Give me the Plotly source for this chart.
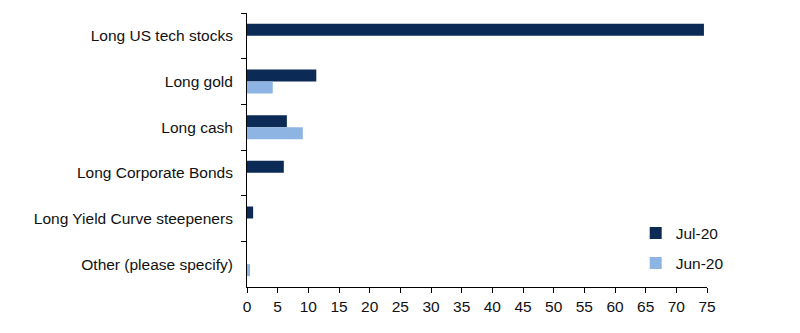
import plotly.graph_objects as go

categories = ["Long US tech stocks", "Long gold", "Long cash", "Long Corporate Bonds",
              "Long Yield Curve steepeners", "Other (please specify)"]
jul20 = [74.5, 11.3, 6.5, 6.0, 1.0, 0.0]
jun20 = [0.0, 4.2, 9.1, 0.0, 0.0, 0.5]
x_ticks = list(range(0, 80, 5))

DARK = "#0B2A55"
LIGHT = "#8DB4E2"

fig = go.Figure()
fig.add_trace(go.Bar(y=categories, x=jul20, orientation="h", name="Jul-20",
                     marker=dict(color=DARK, line=dict(width=0)), legend="legend"))
fig.add_trace(go.Bar(y=categories, x=jun20, orientation="h", name="Jun-20",
                     marker=dict(color=LIGHT, line=dict(width=0)), legend="legend2"))

leg_common = dict(xanchor="left", yanchor="top", itemwidth=30, font=dict(size=15.5),
                  bgcolor="rgba(0,0,0,0)")
fig.update_layout(
    width=800, height=333,
    margin=dict(l=247, r=93, t=13, b=46),
    paper_bgcolor="white", plot_bgcolor="white",
    barmode="group", bargap=0.475, bargroupgap=0,
    font=dict(family="Liberation Sans, Arial, sans-serif", size=15.5, color="#111111"),
    legend=dict(x=0.845, y=0.258, **leg_common),
    legend2=dict(x=0.845, y=0.148, **leg_common),
    showlegend=True,
)
fig.update_xaxes(range=[0, 75], tickvals=x_ticks, showgrid=False, zeroline=False,
                 showline=True, linecolor="black", linewidth=1,
                 ticks="outside", ticklen=5, tickcolor="black", tickwidth=1)
fig.update_yaxes(autorange="reversed", showgrid=False, showline=True, linecolor="black",
                 linewidth=1, ticks="outside", ticklen=5, tickcolor="black",
                 tickson="boundaries", ticklabelstandoff=10)

fig.write_html("out.html")
